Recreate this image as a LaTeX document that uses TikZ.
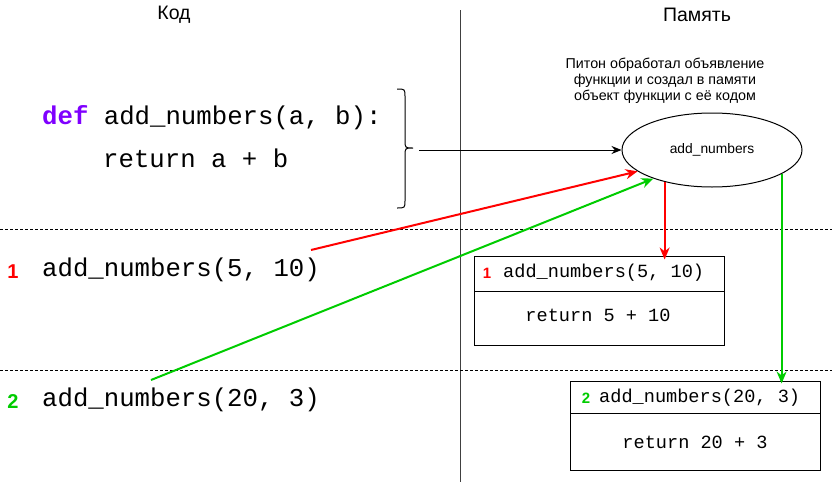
\documentclass[tikz,border=0pt]{standalone}
\usepackage{fontspec}
\setmainfont{Liberation Sans}
\setsansfont{Liberation Sans}
\setmonofont{Liberation Mono}
\usetikzlibrary{shapes.geometric,arrows.meta}
\definecolor{dred}{HTML}{FF0000}
\definecolor{dgreen}{HTML}{00CC00}
\definecolor{dpurple}{HTML}{7F00FF}
\tikzset{
  code/.style={anchor=west,inner sep=0pt,font=\ttfamily\fontsize{25.7}{30}\selectfont},
  boxcode/.style={inner sep=0pt,font=\ttfamily\fontsize{18.6}{22}\selectfont},
  headtext/.style={inner sep=0pt,font=\fontsize{19.5}{23}\selectfont},
  num/.style={inner sep=0pt,font=\bfseries\fontsize{20}{24}\selectfont},
  boxnum/.style={inner sep=0pt,font=\bfseries\fontsize{15}{18}\selectfont},
  part/.style={draw,line width=1pt,minimum width=250pt,inner sep=0pt},
  sep/.style={draw,line width=0.8pt,dash pattern=on 3pt off 2pt},
  arr/.style={-{Stealth[length=10pt,width=8pt]},line width=1pt},
  carr/.style={-{Stealth[length=12pt,width=10pt]},line width=2pt},
}
\begin{document}
\begin{tikzpicture}[x=1pt,y=-1pt]
\useasboundingbox (0,0) rectangle (832,482);
% headers and divider
\node[headtext] (tcode) at (174,15) {Код};
\node[headtext] (tmem) at (697,15) {Память};
\draw[black!75,line width=1pt] (460,10) coordinate (vtop) -- (460,482) coordinate (vbot);
\draw[sep] (0,229) coordinate (s1a) -- (832,229) coordinate (s1b);
\draw[sep] (0,370) coordinate (s2a) -- (832,370) coordinate (s2b);
% code
\node[code] (def) at (42,118) {{\color{dpurple}\bfseries def} add\_numbers(a, b):};
\node[code] (ret) at (103,158) {return a + b};
\draw[line width=1pt] (397,89) .. controls (405,89) .. (405,97) -- (405,140)
  .. controls (405,148) .. (413,148) coordinate (btip)
  .. controls (405,148) .. (405,156) -- (405,200)
  .. controls (405,208) .. (397,208);
\coordinate (bstart) at (419,150);
% calls
\node[num,text=dred] (n1) at (13,272) {1};
\node[code] (call1) at (42,270) {add\_numbers(5, 10)};
\node[num,text=dgreen] (n2) at (13,402) {2};
\node[code] (call2) at (42,400) {add\_numbers(20, 3)};
% memory
\node[align=center,inner sep=0pt,font=\fontsize{14.3}{16}\selectfont] (note) at (665,81)
  {Питон обработал объявление\\функции и создал в памяти\\объект функции с её кодом};
\node[draw,ellipse,line width=1pt,minimum width=180pt,minimum height=74pt,inner sep=0pt,
  font=\fontsize{13.8}{16}\selectfont] (el) at (712,150) {add\_numbers};
% box 1
\node[part,minimum height=35pt] (h1) at (599,273.5) {};
\node[part,minimum height=54pt] (b1) at (599,318) {};
\node[boxnum,text=dred] (h1n) at (487,273) {1};
\node[boxcode,anchor=west] (h1t) at (503,273) {add\_numbers(5, 10)};
\node[boxcode] (b1t) at (598,315) {return 5 + 10};
% box 2
\node[part,minimum height=32pt] (h2) at (695.5,397) {};
\node[part,minimum height=57pt] (b2) at (695.5,441.5) {};
\node[boxnum,text=dgreen] (h2n) at (586,398) {2};
\node[boxcode,anchor=west] (h2t) at (599,398) {add\_numbers(20, 3)};
\node[boxcode] (b2t) at (695,442) {return 20 + 3};
% connectors
\draw[arr] (bstart) -- (el.west);
\coordinate (r1s) at (311,250);
\coordinate (g2s) at (151,380);
\draw[carr,dred] (r1s) -- (el.196);
\draw[carr,dgreen] (g2s) -- (el.206);
\draw[carr,dred] (el.214) -- ([yshift=-4pt]el.214 |- h1.north);
\draw[carr,dgreen] (el.341) -- ([yshift=-3pt]el.341 |- h2.north);
\end{tikzpicture}
\end{document}
